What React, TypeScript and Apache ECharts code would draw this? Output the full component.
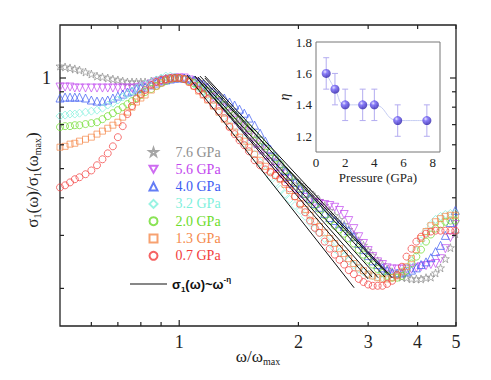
import React, { useEffect, useRef } from 'react';
import * as echarts from 'echarts';

// ω/ωmax sample positions (shared by all spectra)
const OMEGA = [0.50,0.515,0.53,0.545,0.56,0.58,0.60,0.62,0.64,0.66,
  0.68,0.70,0.72,0.74,0.76,0.78,0.80,0.82,0.85,0.875,
  0.90,0.925,0.95,0.975,1.00,
  1.03,1.06,1.09,1.12,1.15,1.18,1.22,1.26,1.30,1.34,
  1.38,1.42,1.46,1.50,1.55,1.60,1.65,1.70,1.75,1.80,
  1.85,1.90,1.96,2.02,2.08,2.14,2.20,2.26,2.33,2.40,
  2.47,2.54,2.61,2.68,2.76,2.84,2.92,3.00,3.08,3.17,
  3.26,3.35,3.45,3.55,3.65,3.75,3.86,3.97,4.08,4.20,
  4.32,4.44,4.57,4.70,4.84,4.98];

const S76 = [1.096,1.088,1.080,1.072,1.063,1.047,1.031,1.015,1.008,1.000,
  0.992,0.985,0.977,0.970,0.970,0.970,0.970,0.970,0.977,0.985,
  0.992,1.000,1.000,1.000,1.000,
  1.000,0.992,0.977,0.955,0.933,0.912,0.878,0.845,0.813,0.776,
  0.747,0.713,0.687,0.661,0.626,0.598,0.575,0.550,0.529,0.509,
  0.490,0.471,0.457,0.443,0.430,0.417,0.404,0.392,0.377,0.363,
  0.349,0.339,0.326,0.314,0.302,0.288,0.278,0.267,0.257,0.247,
  0.240,0.232,0.227,0.222,0.218,0.217,0.215,0.215,0.215,0.217,
  0.218,0.225,0.234,0.251,0.273,0.304];
const S56 = [0.933,0.933,0.933,0.926,0.926,0.926,0.926,0.926,0.926,0.926,
  0.926,0.926,0.926,0.926,0.926,0.926,0.933,0.940,0.955,0.970,
  0.977,0.985,0.992,1.000,1.000,
  1.000,0.985,0.970,0.948,0.926,0.898,0.864,0.832,0.794,0.759,
  0.724,0.692,0.666,0.636,0.603,0.575,0.550,0.525,0.501,0.479,
  0.461,0.443,0.427,0.414,0.401,0.392,0.386,0.383,0.380,0.377,
  0.372,0.363,0.352,0.336,0.316,0.297,0.282,0.267,0.255,0.245,
  0.240,0.234,0.232,0.232,0.232,0.232,0.232,0.234,0.236,0.238,
  0.240,0.242,0.251,0.271,0.295,0.326];
const S40 = [0.858,0.864,0.864,0.864,0.864,0.858,0.845,0.838,0.838,0.845,
  0.858,0.871,0.884,0.898,0.905,0.919,0.926,0.933,0.948,0.962,
  0.977,0.985,0.992,1.000,1.000,
  1.000,0.992,0.985,0.970,0.955,0.933,0.905,0.878,0.858,0.832,
  0.813,0.788,0.764,0.736,0.697,0.656,0.617,0.580,0.550,0.521,
  0.493,0.471,0.450,0.430,0.414,0.398,0.383,0.372,0.355,0.344,
  0.336,0.328,0.321,0.311,0.297,0.282,0.269,0.257,0.247,0.240,
  0.234,0.229,0.225,0.225,0.225,0.227,0.230,0.234,0.240,0.245,
  0.253,0.265,0.278,0.300,0.331,0.363];
const S32 = [0.747,0.753,0.759,0.759,0.764,0.770,0.776,0.782,0.794,0.813,
  0.825,0.845,0.864,0.884,0.905,0.926,0.940,0.955,0.970,0.985,
  1.000,1.015,1.015,1.008,1.000,
  0.992,0.977,0.955,0.926,0.905,0.878,0.845,0.807,0.770,0.730,
  0.692,0.656,0.626,0.593,0.558,0.525,0.493,0.468,0.447,0.427,
  0.411,0.395,0.377,0.363,0.347,0.331,0.316,0.306,0.293,0.282,
  0.271,0.263,0.255,0.247,0.240,0.232,0.227,0.223,0.220,0.218,
  0.217,0.217,0.218,0.222,0.227,0.234,0.247,0.267,0.288,0.309,
  0.326,0.339,0.347,0.352,0.355,0.355];
const S20 = [0.687,0.692,0.692,0.697,0.697,0.703,0.708,0.713,0.730,0.747,
  0.764,0.782,0.800,0.819,0.838,0.858,0.878,0.898,0.919,0.940,
  0.962,0.977,0.992,1.000,1.000,
  0.992,0.977,0.962,0.940,0.926,0.905,0.878,0.845,0.813,0.782,
  0.753,0.724,0.703,0.681,0.651,0.621,0.593,0.567,0.541,0.517,
  0.493,0.471,0.450,0.430,0.411,0.392,0.377,0.366,0.350,0.336,
  0.323,0.314,0.304,0.293,0.282,0.269,0.259,0.249,0.240,0.232,
  0.225,0.220,0.217,0.217,0.220,0.229,0.242,0.255,0.269,0.286,
  0.302,0.316,0.326,0.333,0.336,0.336];
const S13 = [0.589,0.593,0.603,0.607,0.617,0.626,0.636,0.651,0.666,0.681,
  0.697,0.713,0.741,0.770,0.800,0.832,0.858,0.878,0.912,0.940,
  0.962,0.985,0.992,1.000,1.000,
  0.992,0.970,0.940,0.905,0.878,0.845,0.807,0.770,0.730,0.692,
  0.661,0.636,0.617,0.589,0.558,0.533,0.509,0.490,0.475,0.461,
  0.443,0.423,0.404,0.383,0.366,0.350,0.333,0.321,0.306,0.293,
  0.282,0.271,0.261,0.251,0.242,0.234,0.229,0.223,0.220,0.217,
  0.215,0.215,0.217,0.220,0.227,0.236,0.251,0.269,0.293,0.309,
  0.323,0.333,0.341,0.347,0.350,0.350];
const S07 = [0.433,0.440,0.450,0.461,0.468,0.479,0.493,0.513,0.537,0.562,
  0.593,0.636,0.692,0.759,0.807,0.851,0.884,0.912,0.948,0.970,
  0.985,0.992,1.000,1.000,1.000,
  0.992,0.970,0.940,0.912,0.884,0.851,0.813,0.776,0.736,0.687,
  0.651,0.621,0.598,0.571,0.533,0.513,0.497,0.486,0.475,0.464,
  0.450,0.430,0.404,0.380,0.358,0.336,0.318,0.306,0.286,0.271,
  0.259,0.249,0.240,0.230,0.223,0.215,0.210,0.206,0.204,0.204,
  0.204,0.207,0.212,0.222,0.236,0.255,0.271,0.286,0.297,0.304,
  0.309,0.311,0.311,0.311,0.311,0.311];

const SERIES_NAMES = ['7.6 GPa', '5.6 GPa', '4.0 GPa', '3.2 GPa', '2.0 GPa', '1.3 GPa', '0.7 GPa'];
const SERIES_VALUES = [S76, S56, S40, S32, S20, S13, S07];
const SERIES_COLORS = ['#8f8f8f', '#c247ee', '#3d5cf2', '#7ff0dc', '#6ddc2a', '#f58a4c', '#f23d3d'];
const STAR = 'path://M50,2 L61.8,38 L99,38 L69,60 L80.5,96 L50,74 L19.5,96 L31,60 L1,38 L38.2,38 Z';
const DOWN_TRI = 'path://M0,0 L100,0 L50,87 Z';
const SERIES_SYMBOLS = [STAR, DOWN_TRI, 'triangle', 'diamond', 'circle', 'rect', 'circle'];
const SERIES_SIZES = [8, 8, 8, 8, 7, 6, 7];

// fitted power laws σ1(ω) ~ ω^-η (start / end points)
const FIT_NAME = 'fit';
const FIT_START_W = [1.161, 1.128, 1.161, 1.095, 1.115, 1.095, 1.046];
const FIT_START_V = [1.015, 1.015, 1.000, 1.015, 1.008, 1.015, 1.023];
const FIT_END_W = [3.45, 3.37, 3.31, 3.07, 3.18, 3.00, 2.765];
const FIT_END_V = [0.217, 0.222, 0.218, 0.218, 0.217, 0.215, 0.201];

// main axis ticks
const X_TICKS = [0.6, 0.7, 0.8, 0.9, 1, 2, 3, 4, 5];
const X_LABELS = ['', '', '', '', '1', '2', '3', '4', '5'];
const Y_TICKS = [0.2, 0.3, 0.4, 0.5, 0.6, 0.7, 0.8, 0.9, 1];
const Y_LABELS = ['', '', '', '', '', '', '', '', '1'];
const X_MIN = 0.5, X_MAX = 5, Y_MIN = 0.15, Y_MAX = 1.5;

// inset: exponent vs pressure
const PRESSURE = [0.7, 1.3, 2.0, 3.2, 4.0, 5.6, 7.6];
const ETA = [1.6, 1.5, 1.4, 1.4, 1.4, 1.3, 1.3];
const ETA_ERR = [0.1, 0.1, 0.1, 0.1, 0.1, 0.1, 0.1];
const INSET_X_TICKS = [0, 2, 4, 6, 8];
const INSET_Y_TICKS = [1.2, 1.4, 1.6, 1.8];

const SERIF = "'Liberation Serif', 'Times New Roman', serif";
const SANS = "'Liberation Sans', Arial, sans-serif";
const INK = '#222';

export default function App() {
  const ref = useRef<HTMLDivElement>(null);
  useEffect(() => {
    if (!ref.current) return;
    const chart = echarts.init(ref.current, undefined, { renderer: 'svg' });

    const subRich = {
      a: { fontFamily: SERIF, fontSize: 17, lineHeight: 20, color: INK },
      s: { fontFamily: SERIF, fontSize: 10, lineHeight: 12, verticalAlign: 'bottom', color: INK },
    };

    const dataSeries = SERIES_NAMES.map((name, i) => ({
      type: 'scatter',
      name,
      xAxisIndex: 0,
      yAxisIndex: 0,
      data: OMEGA.map((w, k) => [w, SERIES_VALUES[i][k]]),
      symbol: SERIES_SYMBOLS[i],
      symbolSize: SERIES_SIZES[i],
      itemStyle: { color: 'rgba(255,255,255,0)', borderColor: SERIES_COLORS[i], borderWidth: 0.9 },
      z: 2,
      silent: true,
    }));

    const fitSeries = FIT_START_W.map((w, i) => ({
      type: 'line',
      name: FIT_NAME,
      xAxisIndex: 0,
      yAxisIndex: 0,
      data: [[w, FIT_START_V[i]], [FIT_END_W[i], FIT_END_V[i]]],
      symbol: 'none',
      showSymbol: false,
      lineStyle: { color: '#111', width: 1 },
      itemStyle: { color: '#111' },
      z: 5,
      silent: true,
    }));

    const xTickSeries = {
      type: 'custom',
      xAxisIndex: 0,
      yAxisIndex: 0,
      silent: true,
      z: 6,
      data: X_TICKS.map((t) => [t, Y_MIN]),
      renderItem: (params: any, api: any) => {
        const v = api.value(0);
        const b = api.coord([v, Y_MIN]);
        const t = api.coord([v, Y_MAX]);
        const len = v === 1 ? 6 : 4;
        const st = { stroke: INK, lineWidth: 1.2 };
        const children: any[] = [
          { type: 'line', shape: { x1: b[0], y1: b[1], x2: b[0], y2: b[1] - len }, style: st },
          { type: 'line', shape: { x1: t[0], y1: t[1], x2: t[0], y2: t[1] + len }, style: st },
        ];
        const lab = X_LABELS[params.dataIndex];
        if (lab) {
          children.push({
            type: 'text', x: b[0], y: b[1] + 7,
            style: { text: lab, fill: INK, fontFamily: SERIF, fontSize: 18, align: 'center', verticalAlign: 'top' },
          });
        }
        return { type: 'group', children };
      },
    };

    const yTickSeries = {
      type: 'custom',
      xAxisIndex: 0,
      yAxisIndex: 0,
      silent: true,
      z: 6,
      data: Y_TICKS.map((t) => [X_MIN, t]),
      renderItem: (params: any, api: any) => {
        const v = api.value(1);
        const l = api.coord([X_MIN, v]);
        const r = api.coord([X_MAX, v]);
        const len = v === 1 ? 6 : 4;
        const st = { stroke: INK, lineWidth: 1.2 };
        const children: any[] = [
          { type: 'line', shape: { x1: l[0], y1: l[1], x2: l[0] + len, y2: l[1] }, style: st },
          { type: 'line', shape: { x1: r[0], y1: r[1], x2: r[0] - len, y2: r[1] }, style: st },
        ];
        const lab = Y_LABELS[params.dataIndex];
        if (lab) {
          children.push({
            type: 'text', x: l[0] - 9, y: l[1],
            style: { text: lab, fill: INK, fontFamily: SERIF, fontSize: 18, align: 'right', verticalAlign: 'middle' },
          });
        }
        return { type: 'group', children };
      },
    };

    const sphere = new echarts.graphic.RadialGradient(0.38, 0.32, 0.7, [
      { offset: 0, color: '#e6e2ff' },
      { offset: 0.35, color: '#6f5ff6' },
      { offset: 1, color: '#2a1da6' },
    ]);

    const option: any = {
      animation: false,
      backgroundColor: '#ffffff',
      textStyle: { fontFamily: SERIF },
      grid: [
        { left: 60, top: 25, right: 35, bottom: 54, show: true, borderColor: INK, borderWidth: 1.3, backgroundColor: 'transparent', outerBoundsMode: 'none' },
        { left: 316, top: 42, width: 124, height: 110, show: true, borderColor: '#777', borderWidth: 1, backgroundColor: '#fff', z: 3, outerBoundsMode: 'none' },
      ],
      xAxis: [
        {
          gridIndex: 0, type: 'log', logBase: 10, min: X_MIN, max: X_MAX,
          axisLine: { show: false }, axisTick: { show: false }, axisLabel: { show: false }, splitLine: { show: false },
          name: '{a|ω/ω}{s|max}', nameLocation: 'middle', nameGap: 20,
          nameTextStyle: { fontFamily: SERIF, rich: subRich },
        },
        {
          gridIndex: 1, type: 'value', min: 0, max: 8.5,
          axisLine: { show: false }, axisTick: { show: false }, splitLine: { show: false },
          axisLabel: { customValues: INSET_X_TICKS, fontFamily: SERIF, fontSize: 13, color: INK, margin: 4 },
          name: 'Pressure (GPa)', nameLocation: 'middle', nameGap: 19,
          nameTextStyle: { fontFamily: SERIF, fontSize: 13, color: INK },
        },
      ],
      yAxis: [
        {
          gridIndex: 0, type: 'log', logBase: 10, min: Y_MIN, max: Y_MAX,
          axisLine: { show: false }, axisTick: { show: false }, axisLabel: { show: false }, splitLine: { show: false },
          name: '{a|σ}{s|1}{a|(ω)/σ}{s|1}{a|(ω}{s|max}{a|)}', nameLocation: 'middle', nameGap: 18, nameRotate: 90,
          nameTextStyle: { fontFamily: SERIF, rich: subRich, padding: [0, 9, 0, 0] },
        },
        {
          gridIndex: 1, type: 'value', min: 1.1, max: 1.8,
          axisLine: { show: false }, axisTick: { show: false }, splitLine: { show: false },
          axisLabel: { customValues: INSET_Y_TICKS, formatter: (v: number) => v.toFixed(1), fontFamily: SERIF, fontSize: 13, color: INK, margin: 4 },
          name: 'η', nameLocation: 'middle', nameGap: 17, nameRotate: 90,
          nameTextStyle: { fontFamily: SERIF, fontSize: 14, fontStyle: 'italic', color: INK },
        },
      ],
      legend: [
        {
          data: SERIES_NAMES.map((n, i) => ({
            name: n,
            textStyle: { color: SERIES_COLORS[i], fontFamily: SERIF, fontSize: 14, padding: [0, 0, 0, 13] },
          })),
          orient: 'vertical', left: 148.5, top: 145, padding: 0, itemWidth: 8, itemHeight: 8, itemGap: 3.3,
          selectedMode: false,
          textStyle: { fontFamily: SERIF, fontSize: 14, padding: [0, 0, 0, 13] },
        },
        {
          data: [FIT_NAME], orient: 'vertical', left: 130, top: 275, padding: 0, itemWidth: 37, itemHeight: 1,
          icon: 'rect',
          itemStyle: { color: '#111' },
          selectedMode: false,
          formatter: () => '{a|σ}{s|1}{a|(ω)~ω}{p|-η}',
          textStyle: {
            rich: {
              a: { fontFamily: SANS, fontWeight: 'bold', fontSize: 13, lineHeight: 18, color: '#111' },
              s: { fontFamily: SANS, fontWeight: 'bold', fontSize: 8, lineHeight: 10, verticalAlign: 'bottom', color: '#111' },
              p: { fontFamily: SANS, fontWeight: 'bold', fontSize: 8, lineHeight: 10, verticalAlign: 'top', color: '#111' },
            },
          },
        },
      ],
      series: [
        ...dataSeries,
        ...fitSeries,
        xTickSeries,
        yTickSeries,
        {
          type: 'line', xAxisIndex: 1, yAxisIndex: 1, smooth: true, symbol: 'none', silent: true, z: 4,
          data: PRESSURE.map((p, i) => [p, ETA[i]]),
          lineStyle: { color: '#c6cdf3', width: 1 },
        },
        {
          type: 'custom', xAxisIndex: 1, yAxisIndex: 1, silent: true, z: 5,
          data: PRESSURE.map((p, i) => [p, ETA[i] - ETA_ERR[i], ETA[i] + ETA_ERR[i]]),
          renderItem: (params: any, api: any) => {
            const lo = api.coord([api.value(0), api.value(1)]);
            const hi = api.coord([api.value(0), api.value(2)]);
            const st = { stroke: '#b3acf0', lineWidth: 1 };
            return {
              type: 'group',
              children: [
                { type: 'line', shape: { x1: lo[0], y1: lo[1], x2: hi[0], y2: hi[1] }, style: st },
                { type: 'line', shape: { x1: lo[0] - 3, y1: lo[1], x2: lo[0] + 3, y2: lo[1] }, style: st },
                { type: 'line', shape: { x1: hi[0] - 3, y1: hi[1], x2: hi[0] + 3, y2: hi[1] }, style: st },
              ],
            };
          },
        },
        {
          type: 'scatter', xAxisIndex: 1, yAxisIndex: 1, silent: true, z: 6,
          data: PRESSURE.map((p, i) => [p, ETA[i]]),
          symbol: 'circle', symbolSize: 9,
          itemStyle: { color: sphere },
        },
      ],
    };

    chart.setOption(option);
    return () => chart.dispose();
  }, []);

  return <div ref={ref} style={{ position: 'fixed', left: 0, top: 0, width: 491, height: 380 }} />;
}
